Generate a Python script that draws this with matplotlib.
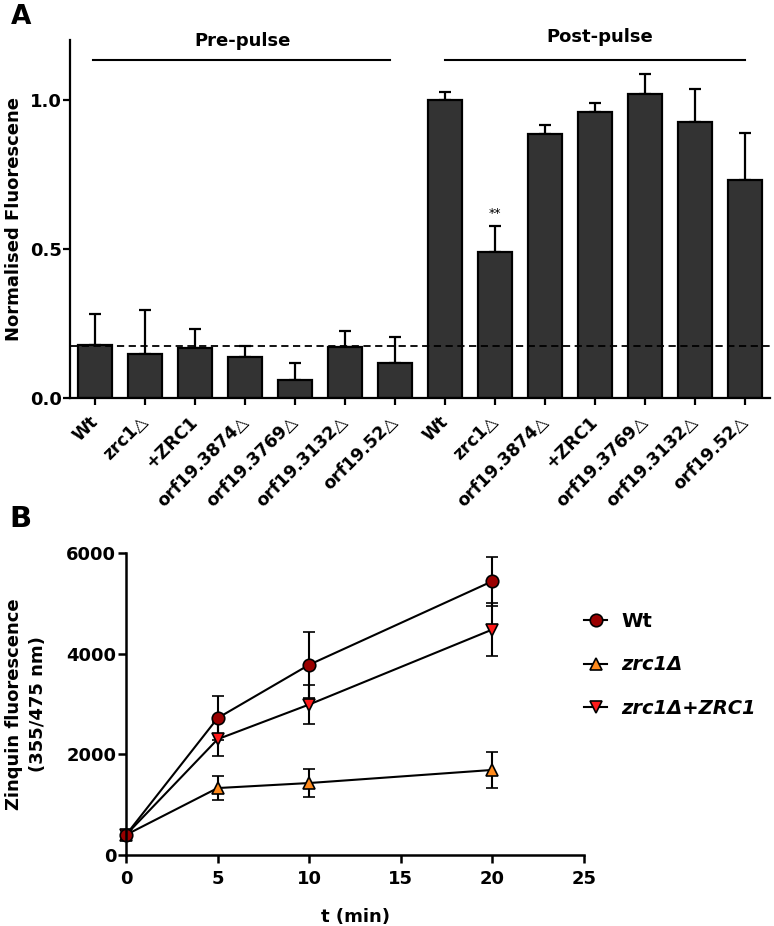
import matplotlib
matplotlib.use('Agg')
import matplotlib.pyplot as plt
import numpy as np
from matplotlib.lines import Line2D

# ---------------- data ----------------
# Panel A
categories = ['Wt', 'zrc1△', '+ZRC1', 'orf19.3874△', 'orf19.3769△', 'orf19.3132△', 'orf19.52△',
              'Wt', 'zrc1△', 'orf19.3874△', '+ZRC1', 'orf19.3769△', 'orf19.3132△', 'orf19.52△']
pre_values = [0.178, 0.148, 0.168, 0.137, 0.060, 0.170, 0.118]
pre_errors = [0.104, 0.147, 0.062, 0.038, 0.057, 0.056, 0.087]
post_values = [1.000, 0.490, 0.886, 0.957, 1.020, 0.924, 0.732]
post_errors = [0.025, 0.085, 0.029, 0.031, 0.065, 0.112, 0.156]
baseline = 0.175
group_labels = ['Pre-pulse', 'Post-pulse']

# Panel B
time_min = [0, 5, 10, 20]
wt = [400, 2720, 3780, 5440]
wt_err = [100, 430, 660, 490]
zrc1 = [400, 1330, 1430, 1690]
zrc1_err = [100, 230, 270, 360]
zrc1_ZRC1 = [400, 2300, 2990, 4480]
zrc1_ZRC1_err = [100, 340, 380, 530]
series_labels = ['Wt', 'zrc1Δ', 'zrc1Δ+ZRC1']

plt.rcParams['font.family'] = 'DejaVu Sans'
plt.rcParams['font.weight'] = 'bold'

W, H = 774, 926
fig = plt.figure(figsize=(W / 100, H / 100), dpi=100)

# ---------------- Panel A ----------------
axA = fig.add_axes([70 / W, 1 - 398 / H, 700 / W, 358 / H])
vals = pre_values + post_values
errs = pre_errors + post_errors
x = np.arange(len(vals))
axA.bar(x, vals, width=0.68, color='#333333', edgecolor='black', linewidth=1.6, zorder=2)
axA.errorbar(x, vals, yerr=[np.zeros(len(vals)), errs], fmt='none', ecolor='black',
             elinewidth=1.6, capsize=4.5, capthick=1.6, zorder=1)
axA.axhline(baseline, color='black', ls=(0, (4, 2.5)), lw=1.3, zorder=3)

axA.set_xlim(-0.5, len(vals) - 0.5)
axA.set_ylim(0, 1.2)
for s in ['top', 'right']:
    axA.spines[s].set_visible(False)
for s in ['left', 'bottom']:
    axA.spines[s].set_linewidth(1.6)
axA.set_yticks([0, 0.5, 1.0])
axA.set_yticklabels(['0.0', '0.5', '1.0'])
axA.tick_params(axis='y', direction='out', length=5, width=1.6, labelsize=13, pad=1)
axA.tick_params(axis='x', direction='out', length=5, width=1.6, labelsize=12.5, pad=10)
axA.set_xticks(x)
axA.set_xticklabels(categories, rotation=45, ha='right', va='center', rotation_mode='anchor')
axA.set_ylabel('Normalised Fluorescene', fontsize=13, fontweight='bold', labelpad=5)

axA.plot([-0.05, 5.9], [1.134, 1.134], color='black', lw=1.5, clip_on=False)
axA.plot([7, 13], [1.134, 1.134], color='black', lw=1.5, clip_on=False)
axA.text(2.95, 1.195, group_labels[0], ha='center', va='center', fontsize=13, fontweight='bold')
axA.text(10.1, 1.21, group_labels[1], ha='center', va='center', fontsize=13, fontweight='bold')
axA.text(8, 0.62, '**', ha='center', va='center', fontsize=9, fontweight='normal')

fig.text(11 / W, 1 - 24 / H, 'A', fontsize=19, fontweight='bold', va='baseline', ha='left')

# ---------------- Panel B ----------------
axB = fig.add_axes([126 / W, 1 - 855 / H, 458 / W, 302 / H])
col_wt = '#9a0000'
col_zrc1 = '#ff8a1c'
col_res = '#ff1a1a'
specs = [
    (zrc1, zrc1_err, '^', col_zrc1),
    (zrc1_ZRC1, zrc1_ZRC1_err, 'v', col_res),
    (wt, wt_err, 'o', col_wt),
]
for yv, ye, mk, c in specs:
    cont = axB.errorbar(time_min, yv, yerr=ye, fmt='-', color='black', lw=1.5, marker=mk,
                        mfc=c, mec='black', mew=1.2, ms=9, capsize=4, elinewidth=1.5,
                        capthick=1.5, ecolor='black')
    cont[0].set_clip_on(False)
    for cl in cont[1]:
        cl.set_clip_on(False)
    for bl in cont[2]:
        bl.set_clip_on(False)

axB.set_xlim(0, 25)
axB.set_ylim(0, 6000)
for s in ['top', 'right']:
    axB.spines[s].set_visible(False)
for s in ['left', 'bottom']:
    axB.spines[s].set_linewidth(1.8)
axB.set_xticks([0, 5, 10, 15, 20, 25])
axB.set_yticks([0, 2000, 4000, 6000])
axB.tick_params(axis='y', direction='out', length=6, width=1.8, labelsize=13, pad=1)
axB.tick_params(axis='x', direction='out', length=6, width=1.8, labelsize=13, pad=5)
axB.set_xlabel('t (min)', fontsize=13, fontweight='bold', labelpad=14)
axB.set_ylabel('Zinquin fluorescence\n(355/475 nm)', fontsize=13, fontweight='bold',
               labelpad=14, linespacing=1.45)

handles = [
    Line2D([], [], color='black', lw=1.5, marker='o', mfc=col_wt, mec='black', mew=1.2, ms=9),
    Line2D([], [], color='black', lw=1.5, marker='^', mfc=col_zrc1, mec='black', mew=1.2, ms=9),
    Line2D([], [], color='black', lw=1.5, marker='v', mfc=col_res, mec='black', mew=1.2, ms=9),
]
leg = fig.legend(handles, series_labels, loc='upper left', bbox_to_anchor=(584 / W, 1 - 612 / H),
                 frameon=False, fontsize=14, handlelength=1.2, handletextpad=0.7,
                 labelspacing=1.25, borderpad=0, borderaxespad=0)
for t in leg.get_texts()[1:]:
    t.set_style('italic')

fig.text(9 / W, 1 - 527 / H, 'B', fontsize=21, fontweight='bold', va='baseline', ha='left')

fig.savefig('out.png', dpi=100)
